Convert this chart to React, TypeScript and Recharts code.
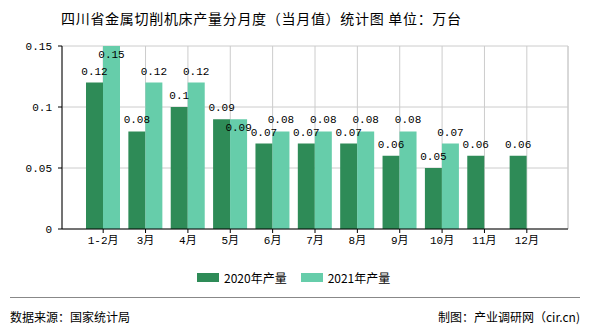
import { BarChart, Bar, XAxis, YAxis, CartesianGrid, LabelList } from 'recharts'

const MONTHS = ['1-2月', '3月', '4月', '5月', '6月', '7月', '8月', '9月', '10月', '11月', '12月']
const OUT_2020 = [0.12, 0.08, 0.1, 0.09, 0.07, 0.07, 0.07, 0.06, 0.05, 0.06, 0.06]
const OUT_2021: (number | null)[] = [0.15, 0.12, 0.12, 0.09, 0.08, 0.08, 0.08, 0.08, 0.07, null, null]
const Y_TICKS = [0, 0.05, 0.1, 0.15]

const SERIES = [
  { key: 'y2020', name: '2020年产量', color: '#2E8B57' },
  { key: 'y2021', name: '2021年产量', color: '#66CDAA' },
]

const NUM_FONT = '"Liberation Mono", "Noto Sans CJK SC", monospace'
const CJK_FONT = '"Noto Sans CJK SC", "Noto Sans", sans-serif'

const data = MONTHS.map((m, i) => ({ month: m, y2020: OUT_2020[i], y2021: OUT_2021[i] }))

function makeLabel(series: 'y2020' | 'y2021') {
  return (props: any) => {
    const { x, y, width, value, index } = props
    if (value == null) return null
    // labels that would hit the top edge or overlap the twin label drop inside the bar
    const inside =
      series === 'y2021' &&
      (value >= Y_TICKS[Y_TICKS.length - 1] || value === OUT_2020[index])
    return (
      <text
        x={x + width / 2}
        y={inside ? y + 12 : y - 8}
        textAnchor="middle"
        fontSize={11}
        fontFamily={NUM_FONT}
        fill="#000"
      >
        {value}
      </text>
    )
  }
}

function Legend() {
  return (
    <div style={{ position: 'absolute', top: 269, left: 197, display: 'flex', fontFamily: CJK_FONT, fontSize: 12 }}>
      {SERIES.map(s => (
        <div key={s.key} style={{ display: 'flex', alignItems: 'center', marginRight: 14 }}>
          <span style={{ width: 22, height: 9, background: s.color, marginRight: 5 }} />
          <span>{s.name}</span>
        </div>
      ))}
    </div>
  )
}

export default function App() {
  return (
    <div style={{ position: 'absolute', left: 0, top: 0, width: 590, height: 330, background: '#fff', overflow: 'hidden' }}>
      <div style={{ position: 'absolute', left: 61, top: 8, fontFamily: CJK_FONT, fontSize: 14, letterSpacing: 0.7, whiteSpace: 'nowrap' }}>
        四川省金属切削机床产量分月度（当月值）统计图 单位：万台
      </div>
      <div style={{ position: 'absolute', left: 0, top: 0 }}>
        <BarChart
          width={590}
          height={330}
          data={data}
          margin={{ top: 46, right: 22, bottom: 81, left: 0 }}
          barSize={17}
          barGap={0}
        >
          <CartesianGrid stroke="#cccccc" />
          <CartesianGrid
            stroke="#cccccc"
            horizontal={false}
            verticalCoordinatesGenerator={({ offset }: any) => [offset.left + offset.width]}
          />
          <XAxis
            dataKey="month"
            padding={{ left: 20, right: 20 }}
            height={20}
            tickSize={4}
            tickMargin={3}
            stroke="#000"
            interval={0}
            tick={{ fontSize: 11, fontFamily: NUM_FONT, fill: '#000' }}
          />
          <YAxis
            width={62}
            domain={[0, 0.15]}
            ticks={Y_TICKS}
            tickSize={4}
            tickMargin={6}
            stroke="#000"
            tick={{ fontSize: 11, fontFamily: NUM_FONT, fill: '#000' }}
          />
          {SERIES.map(s => (
            <Bar key={s.key} dataKey={s.key} name={s.name} fill={s.color} isAnimationActive={false}>
              <LabelList dataKey={s.key} content={makeLabel(s.key as 'y2020' | 'y2021')} />
            </Bar>
          ))}
        </BarChart>
      </div>
      <Legend />
      <div style={{ position: 'absolute', left: 10, top: 297, width: 570, borderTop: '1px solid #888' }} />
      <div style={{ position: 'absolute', left: 10, top: 308, fontFamily: CJK_FONT, fontSize: 12 }}>
        数据来源：国家统计局
      </div>
      <div style={{ position: 'absolute', right: 10, top: 308, fontFamily: CJK_FONT, fontSize: 12 }}>
        制图：产业调研网（cir.cn)
      </div>
    </div>
  )
}
